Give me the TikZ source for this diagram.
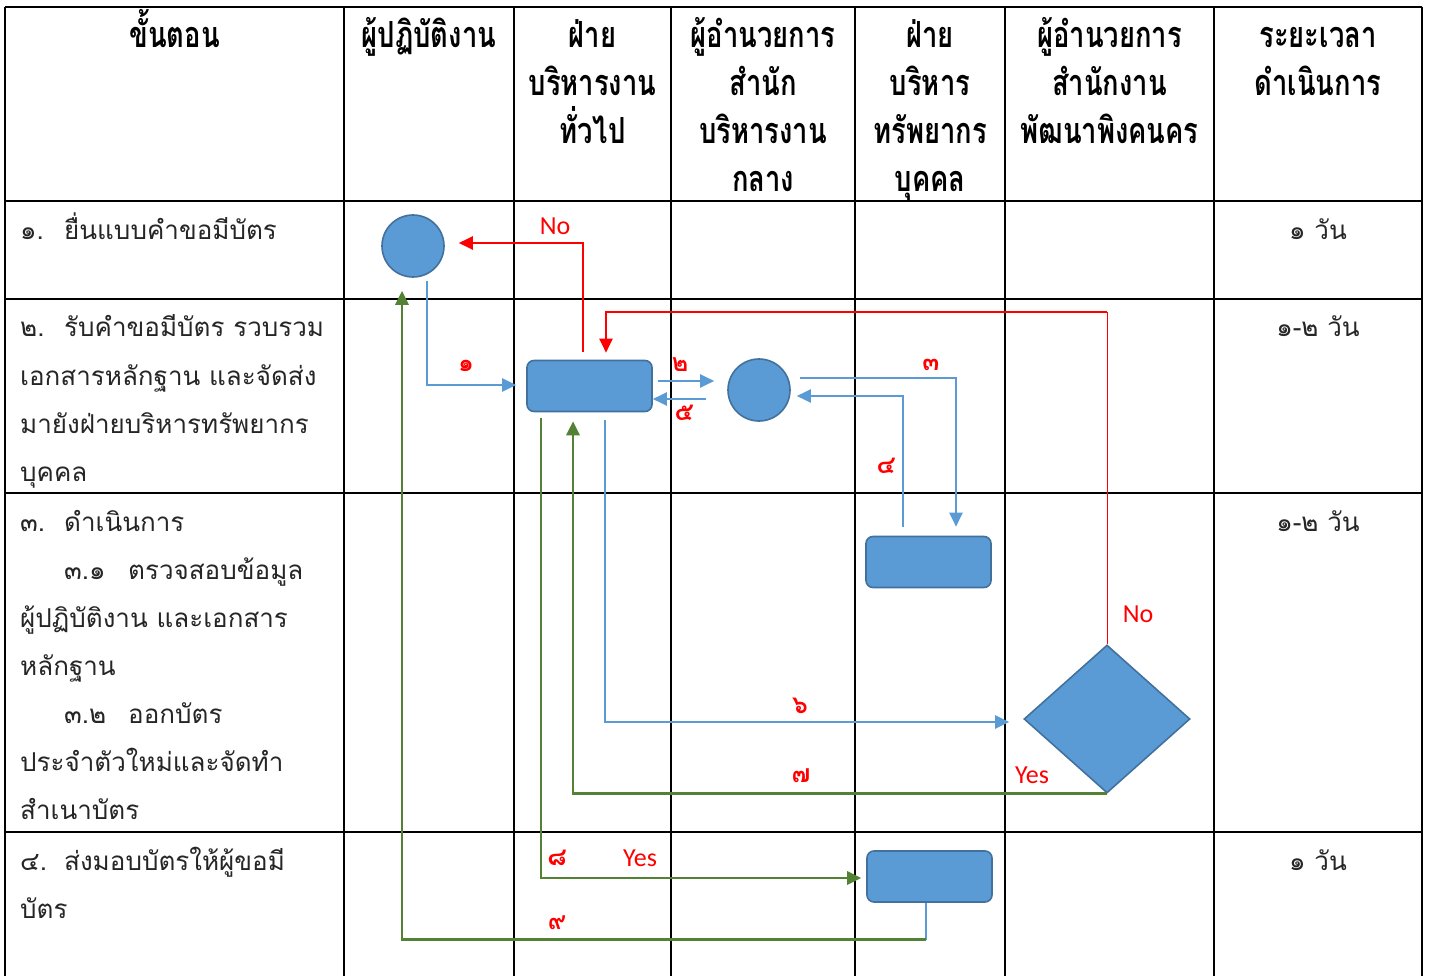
\documentclass[tikz,border=0pt]{standalone}
\usepackage{fontspec}
\newfontfamily\thai[Script=Thai]{Loma}
\newfontfamily\thaihd[Script=Thai,FakeStretch=0.76]{Loma}
\newfontfamily\lat{Carlito}
\usetikzlibrary{arrows.meta,calc,shapes.geometric}
\definecolor{sfill}{HTML}{5B9BD5}
\definecolor{sdraw}{HTML}{41719C}
\definecolor{lblue}{HTML}{5B9BD5}
\definecolor{lgreen}{HTML}{548235}
\definecolor{lred}{HTML}{FF0000}
\begin{document}
\begin{tikzpicture}[x=1pt,y=-1pt,
 grid/.style={line width=2.4pt,black},
 hd/.style={font=\thaihd\bfseries\fontsize{36}{36}\selectfont, anchor=base, inner sep=0},
 bd/.style={font=\thai\fontsize{26}{26}\selectfont, anchor=base west, inner sep=0, text=black!85},
 tm/.style={font=\thai\fontsize{26}{26}\selectfont, anchor=base, inner sep=0, text=black!85},
 circ/.style={circle, fill=sfill, draw=sdraw, line width=1.6pt, minimum size=62pt, inner sep=0},
 rbox/.style={rectangle, rounded corners=7pt, fill=sfill, draw=sdraw, line width=1.6pt, minimum width=125pt, minimum height=51pt, inner sep=0},
 dia/.style={diamond, fill=sfill, draw=sdraw, line width=1.6pt, minimum width=166pt, minimum height=148pt, inner sep=0},
 tip/.style={-{Triangle[length=14pt,width=13pt]}},
 bl/.style={draw=lblue, line width=2.2pt, tip},
 gr/.style={draw=lgreen, line width=2.8pt, tip},
 rd/.style={draw=lred, line width=2.2pt, tip},
 num/.style={font=\thai\bfseries\fontsize{25}{25}\selectfont, text=lred, inner sep=0},
 yn/.style={font=\lat\fontsize{26}{26}\selectfont, text=lred, inner sep=0}
]
\useasboundingbox (0,0) rectangle (1430,976);
\fill[white] (0,0) rectangle (1430,976);
% grid
\draw[grid] (5,7) -- (1422,7);
\foreach \yy in {201,299,493,832} {\draw[grid] (5,\yy) -- (1422,\yy);}
\foreach \xx in {5,344,514,671,855,1005,1214,1422} {\draw[grid] (\xx,7) -- (\xx,976);}
% header
\node[hd] (h1) at (174.5,48) {ขั้นตอน};
\node[hd] (h2) at (429,48) {ผู้ปฏิบัติงาน};
\node[hd] (h3a) at (592.5,48) {ฝ่าย};
\node[hd] (h3b) at (592.5,96) {บริหารงาน};
\node[hd] (h3c) at (592.5,144) {ทั่วไป};
\node[hd] (h4a) at (763,48) {ผู้อำนวยการ};
\node[hd] (h4b) at (763,96) {สำนัก};
\node[hd] (h4c) at (763,144) {บริหารงาน};
\node[hd] (h4d) at (763,192) {กลาง};
\node[hd] (h5a) at (930,48) {ฝ่าย};
\node[hd] (h5b) at (930,96) {บริหาร};
\node[hd] (h5c) at (930,144) {ทรัพยากร};
\node[hd] (h5d) at (930,192) {บุคคล};
\node[hd] (h6a) at (1109.5,48) {ผู้อำนวยการ};
\node[hd] (h6b) at (1109.5,96) {สำนักงาน};
\node[hd] (h6c) at (1109.5,144) {พัฒนาพิงคนคร};
\node[hd] (h7a) at (1318,48) {ระยะเวลา};
\node[hd] (h7b) at (1318,96) {ดำเนินการ};
% body
\node[bd] (n1) at (20,240) {๑.};
\node[bd] (t1) at (64,240) {ยื่นแบบคำขอมีบัตร};
\node[bd] (n2) at (20,337) {๒.};
\node[bd] (t2a) at (64,337) {รับคำขอมีบัตร รวบรวม};
\node[bd] (t2b) at (20,385) {เอกสารหลักฐาน และจัดส่ง};
\node[bd] (t2c) at (20,433) {มายังฝ่ายบริหารทรัพยากร};
\node[bd] (t2d) at (20,481) {บุคคล};
\node[bd] (n3) at (20,531) {๓.};
\node[bd] (t3a) at (64,531) {ดำเนินการ};
\node[bd] (n31) at (64,579) {๓.๑};
\node[bd] (t3b) at (128,579) {ตรวจสอบข้อมูล};
\node[bd] (t3c) at (20,627) {ผู้ปฏิบัติงาน และเอกสาร};
\node[bd] (t3d) at (20,675) {หลักฐาน};
\node[bd] (n32) at (64,723) {๓.๒};
\node[bd] (t3e) at (128,723) {ออกบัตร};
\node[bd] (t3f) at (20,771) {ประจำตัวใหม่และจัดทำ};
\node[bd] (t3g) at (20,819) {สำเนาบัตร};
\node[bd] (n4) at (20,870) {๔.};
\node[bd] (t4a) at (64,870) {ส่งมอบบัตรให้ผู้ขอมี};
\node[bd] (t4b) at (20,918) {บัตร};
% time
\node[tm] (d1) at (1318,240) {๑ วัน};
\node[tm] (d2) at (1318,337) {๑-๒ วัน};
\node[tm] (d3) at (1318,531) {๑-๒ วัน};
\node[tm] (d4) at (1318,870) {๑ วัน};
% shapes
\node[circ] (A) at (413,246) {};
\node[rbox] (B) at (589.5,386) {};
\node[circ] (C) at (759,390) {};
\node[rbox] (D) at (928.5,562) {};
\node[rbox] (E) at (929.5,876.5) {};
\node[dia] (Dm) at (1107,719) {};
% connectors
\draw[bl] ($(A.south)+(14,3)$) |- ($(B.west)+(-10,-1)$);
\draw[bl] ($(B.east)+(5,-5)$) -- ($(C.west)+(-13,-9)$);
\draw[bl] ($(C.west)+(-21,9)$) -- ($(B.east)+(0,13)$);
\draw[bl] ($(C.east)+(9,-12)$) -| ($(D.north)+(27.5,-9)$);
\draw[bl] ($(D.north)+(-25.5,-9)$) |- ($(C.east)+(6,6)$);
\draw[bl] ($(B.south)+(15.5,8)$) |- ($(Dm.west)+(-14,3)$);
\draw[gr] (Dm.south) -| ($(B.south)+(-16.5,9)$);
\draw[gr] ($(B.south)+(-48.5,6)$) |- ($(E.west)+(-5,1.5)$);
\coordinate (e9) at ($(E.south)+(-3.5,37)$);
\draw[draw=lblue, line width=1.6pt] ($(E.south)+(-3.5,0)$) -- (e9);
\draw[gr] (e9) -| ($(A.south)+(-11,13)$);
\draw[rd] ($(B.north)+(-6.5,-8)$) |- ($(A.east)+(14,-3)$);
\coordinate (r1) at ($(Dm.north)+(0,-332)$);
\draw[draw=lred, line width=1pt] (Dm.north) -- (r1);
\draw[rd] (r1) -| ($(B.north)+(16.5,-7)$);
% labels
\node[yn] (no1) at (555,226) {No};
\node[yn] (no2) at (1138,614) {No};
\node[yn] (yes1) at (1032,775) {Yes};
\node[yn] (yes2) at (640,858) {Yes};
\node[num] (l1) at (466,366) {๑};
\node[num] (l2) at (680,365) {๒};
\node[num] (l5) at (684,413) {๕};
\node[num] (l3) at (931,365) {๓};
\node[num] (l4) at (886,466) {๔};
\node[num] (l6) at (800,706) {๖};
\node[num] (l7) at (801,776) {๗};
\node[num] (l8) at (557,858) {๘};
\node[num] (l9) at (557,923) {๙};
\end{tikzpicture}
\end{document}
